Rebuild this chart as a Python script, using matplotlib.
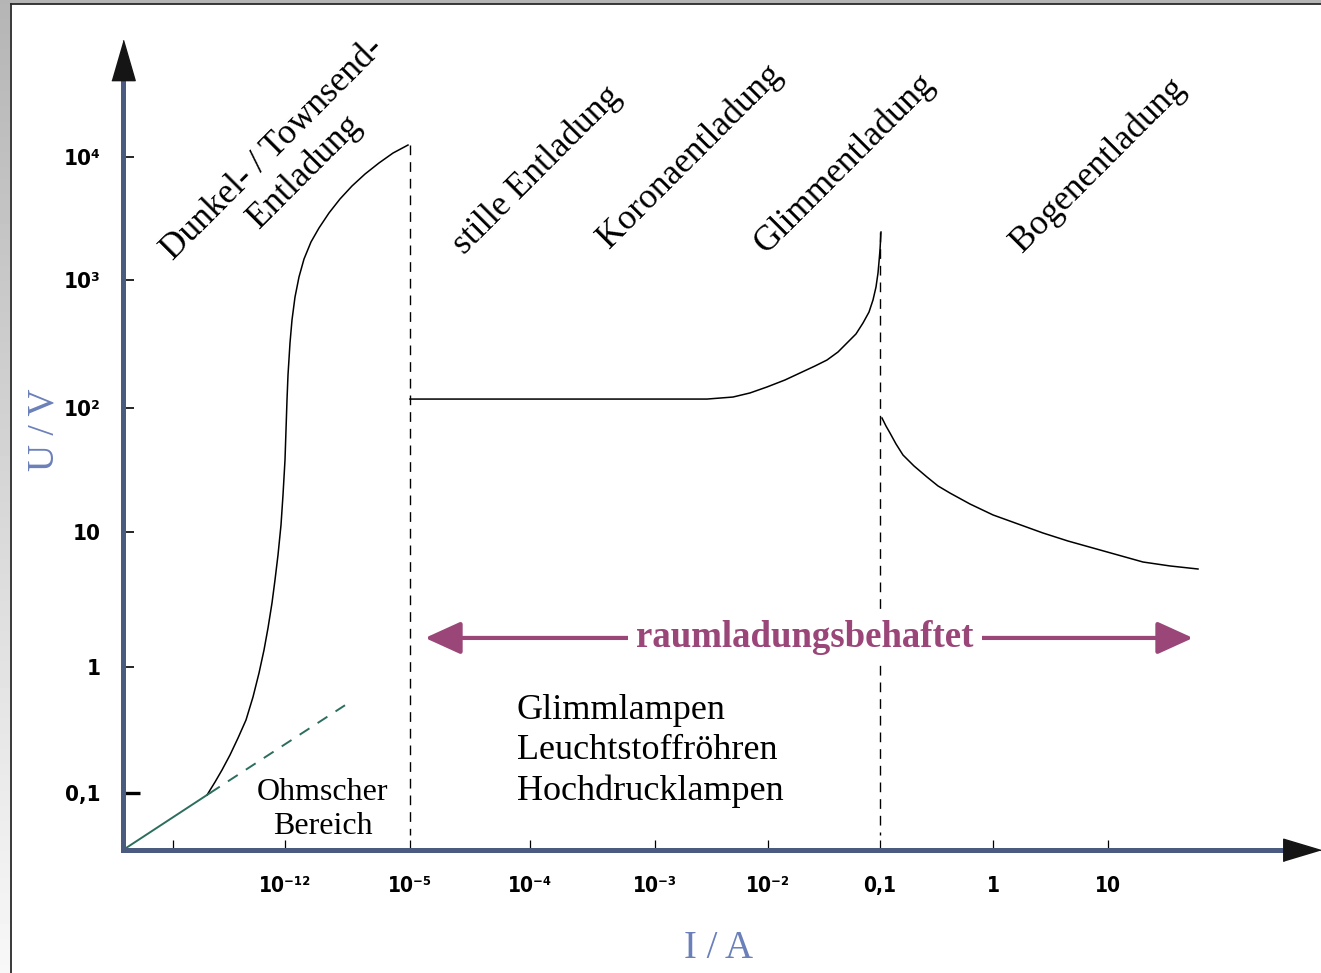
import numpy as np
import matplotlib
matplotlib.use('Agg')
import matplotlib.pyplot as plt
from matplotlib import font_manager
from matplotlib.font_manager import FontProperties
from matplotlib.patches import Rectangle, FancyArrowPatch
from matplotlib.lines import Line2D

serif = 'Liberation Serif'

# narrow bold upright sans for the tick labels, if one is installed
narrow = None
for f in font_manager.fontManager.ttflist:
    if f.name == 'Liberation Sans Narrow' and str(f.weight) in ('700', 'bold') and f.style == 'normal':
        narrow = f.fname
if narrow is None:
    for f in font_manager.fontManager.ttflist:
        if (f.name == 'DejaVu Sans' and f.stretch == 'condensed'
                and str(f.weight) in ('700', 'bold') and f.style == 'normal'):
            narrow = f.fname


def tick_fp(size):
    if narrow:
        return FontProperties(fname=narrow, size=size)
    return FontProperties(family=['Liberation Sans', 'DejaVu Sans'], weight='bold', size=size)


# --- data (schematic axis units: x = position along I axis, y = log10(U/V)) ---
x_tick_pos = [0.5, 1.62, 2.87, 4.07, 5.32, 6.45, 7.57, 8.70, 9.85]
x_tick_lab = ['', '10⁻¹²', '10⁻⁵', '10⁻⁴', '10⁻³', '10⁻²', '0,1', '1', '10']
y_tick_pos = [-1.0, -0.01, 1.05, 2.03, 3.03, 4.0]
y_tick_lab = ['0,1', '1', '10', '10²', '10³', '10⁴']

# Dunkel-/Townsend-Entladung
townsend_x = [0.84, 0.92, 0.99, 1.07, 1.15, 1.23, 1.30, 1.36, 1.41, 1.45, 1.49,
              1.52, 1.55, 1.58, 1.60, 1.62, 1.63, 1.64, 1.65, 1.67, 1.69, 1.72,
              1.76, 1.81, 1.88, 1.96, 2.06, 2.17, 2.29, 2.42, 2.56, 2.70, 2.85]
townsend_y = [-1.016, -0.914, -0.819, -0.701, -0.568, -0.426, -0.245, -0.057,
              0.124, 0.297, 0.494, 0.675, 0.871, 1.107, 1.343, 1.618, 1.854,
              2.090, 2.286, 2.538, 2.719, 2.899, 3.057, 3.198, 3.332, 3.442,
              3.560, 3.670, 3.772, 3.866, 3.953, 4.031, 4.094]
# stille Entladung / Korona / Glimm
glow_x = [2.87, 3.45, 5.84, 5.97, 6.10, 6.27, 6.44, 6.62, 6.77, 6.92, 7.04,
          7.15, 7.24, 7.33, 7.40, 7.46, 7.50, 7.53, 7.55, 7.56, 7.57, 7.58]
glow_y = [2.097, 2.097, 2.097, 2.105, 2.113, 2.145, 2.192, 2.247, 2.302, 2.357,
          2.404, 2.467, 2.538, 2.609, 2.695, 2.781, 2.876, 2.978, 3.088, 3.175,
          3.269, 3.410]
# Bogenentladung
arc_x = [7.59, 7.63, 7.67, 7.73, 7.80, 7.91, 8.04, 8.15, 8.27, 8.47, 8.70,
         8.95, 9.20, 9.45, 9.70, 9.95, 10.20, 10.47, 10.75]
arc_y = [1.948, 1.885, 1.830, 1.744, 1.657, 1.571, 1.484, 1.414, 1.358, 1.272,
         1.186, 1.115, 1.044, 0.981, 0.926, 0.871, 0.816, 0.785, 0.761]
# Ohmscher Bereich
ohm_x = [0.0, 0.87]
ohm_y = [-1.448, -1.0]
ohm_ext_x = [0.87, 2.22]
ohm_ext_y = [-1.0, -0.31]
# region borders
border_x = [2.87, 7.57]
border_top = [4.094, 3.41]

regions = ['Dunkel- / Townsend-', 'Entladung', 'stille Entladung',
           'Koronaentladung', 'Glimmentladung', 'Bogenentladung']
region_pos = [(1.50, 4.06), (1.82, 3.882), (4.14, 3.898),
              (5.67, 4.008), (7.21, 3.953), (9.75, 3.937)]
lamps = ['Glimmlampen', 'Leuchtstoffröhren', 'Hochdrucklampen']

axis_col = '#4b5b80'
label_col = '#6b80ba'
purple = '#9a4679'
green = '#2c6e5e'

fig = plt.figure(figsize=(13.21, 9.73), dpi=100)
fig.patch.set_facecolor('white')

# gray frame at left and top
bg = fig.add_axes([0, 0, 10 / 1321, 1])
grad = np.linspace(0.71, 0.97, 256).reshape(-1, 1)
bg.imshow(grad, aspect='auto', cmap='gray', vmin=0, vmax=1)
bg.axis('off')
fig.patches.append(Rectangle((0, 969.5 / 973), 1, 3.5 / 973, transform=fig.transFigure,
                             facecolor='#b5b5b5', edgecolor='none'))
fig.lines.append(Line2D([10.5 / 1321, 10.5 / 1321], [0, 969.5 / 973], transform=fig.transFigure,
                        color='#2a2a2a', lw=1.3))
fig.lines.append(Line2D([10.5 / 1321, 1], [969.5 / 973, 969.5 / 973], transform=fig.transFigure,
                        color='#2a2a2a', lw=1.3))

ax = fig.add_axes([123 / 1321, 123 / 973, 1160 / 1321, 772 / 973])
ax.set_xlim(0, 11.6)
ax.set_ylim(-1.448, 4.621)
for s in ['top', 'right']:
    ax.spines[s].set_visible(False)
for s in ['left', 'bottom']:
    ax.spines[s].set_color(axis_col)
    ax.spines[s].set_linewidth(3.6)

ax.set_xticks(x_tick_pos)
ax.set_xticklabels(x_tick_lab, fontproperties=tick_fp(15))
ax.set_yticks(y_tick_pos)
ax.set_yticklabels(y_tick_lab, fontproperties=tick_fp(16))
ax.tick_params(axis='x', direction='in', length=7, width=0.9, color='black', pad=30)
ax.tick_params(axis='y', direction='in', length=8, width=1.2, color='black', pad=16)
for lab in ax.get_xticklabels():
    lab.set_va('baseline')
# 0,1 tick is heavier
t0 = ax.yaxis.get_major_ticks()[0]
t0.tick1line.set_markersize(12)
t0.tick1line.set_markeredgewidth(2.4)

# arrow heads
ax.plot(0, 4.763, marker=[(-0.58, -1), (0.58, -1), (0, 1)], ms=29, color='#151515',
        clip_on=False, zorder=5)
ax.plot(11.785, -1.448, marker=[(-1, -0.6), (-1, 0.6), (1, 0)], ms=27, color='#151515',
        clip_on=False, zorder=5)

# curves
ax.plot(townsend_x, townsend_y, color='black', lw=1.1, clip_on=False)
ax.plot(glow_x, glow_y, color='black', lw=1.1)
ax.plot(arc_x, arc_y, color='black', lw=1.1)
ax.plot(ohm_x, ohm_y, color=green, lw=1.4, clip_on=False)
ax.plot(ohm_ext_x, ohm_ext_y, color=green, lw=1.4, dashes=(6, 5))
for bx, bt in zip(border_x, border_top):
    ax.plot([bx, bx], [bt, -1.33], color='black', lw=1.0, dashes=(7, 5))

# region names
for txt, (px, py) in zip(regions, region_pos):
    ax.text(px, py, txt, rotation=45, rotation_mode='anchor', ha='center', va='center',
            fontsize=25.5, family=serif, color='black')

ax.text(2.0, -1.13, 'Ohmscher\nBereich', ha='center', va='center', fontsize=23,
        family=serif, linespacing=1.2)
ax.text(3.94, -0.67, '\n'.join(lamps), ha='left', va='center', fontsize=26,
        family=serif, linespacing=1.28)

# raumladungsbehaftet arrow
arr = FancyArrowPatch((3.02, 0.219), (10.70, 0.219),
                      arrowstyle='<|-|>,head_length=22,head_width=10',
                      mutation_scale=1, color=purple, lw=3, shrinkA=0, shrinkB=0)
ax.add_patch(arr)
ax.text(6.82, 0.219, 'raumladungsbehaftet', ha='center', va='center', fontsize=26.5,
        family=serif, weight='bold', color=purple,
        bbox=dict(facecolor='white', edgecolor='none', pad=6))

# axis labels
ax.text(-0.79, 1.854, 'U / V', rotation=90, ha='center', va='center', fontsize=27,
        family=serif, color=label_col)
ax.text(5.96, -2.22, 'I / A', ha='center', va='center', fontsize=28,
        family=serif, color=label_col)

fig.savefig('out.png', dpi=100)
